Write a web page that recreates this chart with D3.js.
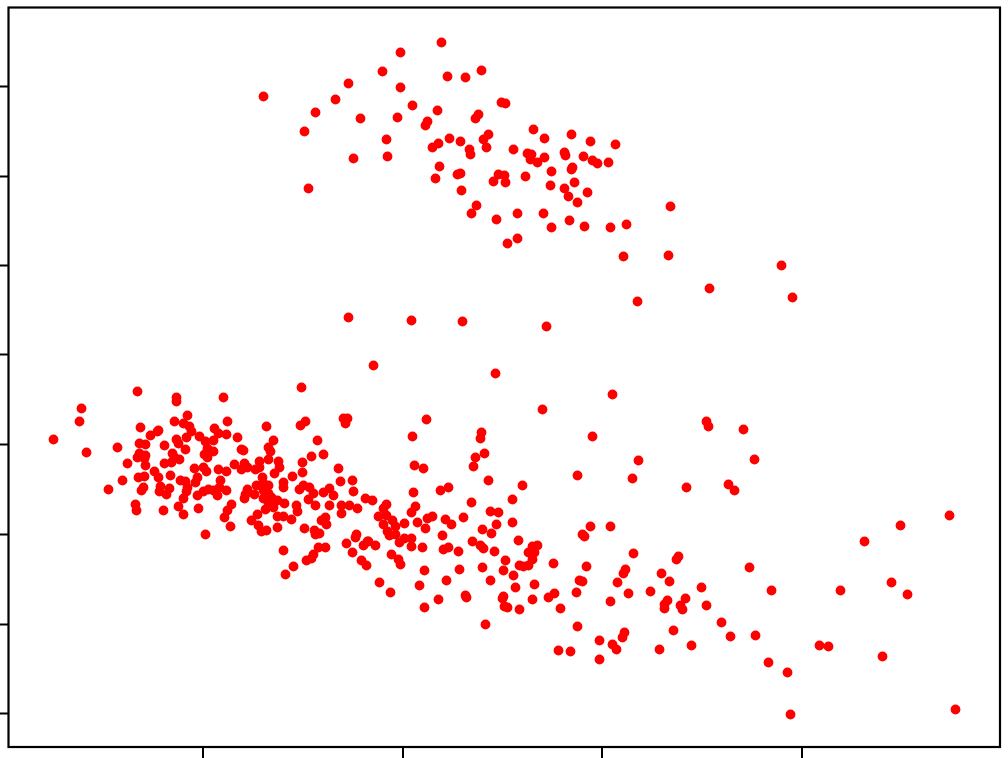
<!DOCTYPE html>
<html><head><meta charset="utf-8">
<script src="https://cdn.jsdelivr.net/npm/d3@7/dist/d3.min.js"></script>
<style>html,body{margin:0;padding:0;background:#fff}svg{display:block}</style></head>
<body><div id="chart"></div>
<script>
const xTicks=[203,403,602,802];
const yTicks=[86,176,265,354,444,534,624,713];
const upperCluster=[[441,42],[447,76],[465,77],[481,70],[501,102],[505,103],[412,105],[437,110],[478,114],[475,118],[427,121],[425,125],[533,129],[544,138],[571,134],[590,141],[615,144],[488,134],[483,139],[486,147],[449,138],[460,141],[438,143],[432,147],[469,149],[470,154],[513,149],[527,153],[531,154],[530,159],[537,162],[544,157],[564,152],[565,155],[583,156],[592,160],[597,163],[608,162],[551,171],[572,167],[571,169],[439,166],[435,178],[457,174],[460,173],[498,174],[504,175],[493,181],[505,182],[525,176],[550,185],[564,188],[574,182],[568,196],[587,192],[577,202],[461,190],[476,205],[471,213],[496,219],[517,213],[543,213],[569,220],[551,227],[584,226],[610,227],[626,224],[517,238],[507,243],[623,256],[400,52],[263,96],[348,83],[382,71],[400,87],[335,99],[315,112],[360,118],[397,117],[304,131],[386,139],[353,158],[387,156],[308,188],[670,206],[668,255],[637,301],[709,288],[781,265],[792,297]];
const middlePoints=[[348,317],[411,320],[462,321],[546,326],[373,365],[495,373],[612,394],[542,409]];
const leftCluster=[[137,391],[176,397],[176,401],[81,408],[79,421],[53,439],[86,452],[117,447],[127,463],[122,480],[108,489],[140,427],[158,430],[157,431],[150,435],[139,443],[145,444],[164,445],[176,439],[178,443],[174,421],[187,415],[183,423],[189,426],[191,431],[186,437],[199,436],[205,441],[185,449],[139,453],[137,457],[145,455],[145,465],[144,458],[172,453],[174,457],[164,463],[171,462],[179,459],[154,471],[158,477],[138,477],[144,476],[170,475],[194,468],[203,467],[206,471],[204,454],[207,448],[207,457],[143,487],[141,490],[160,486],[159,491],[169,488],[166,494],[180,480],[185,481],[187,487],[186,491],[197,477],[195,482],[197,495],[203,491],[208,489],[183,498],[178,506],[135,504],[136,510],[163,510],[183,514],[198,508],[205,534]];
const centerCluster=[[301,387],[223,397],[227,421],[266,426],[214,428],[218,433],[226,434],[237,437],[213,440],[213,451],[241,449],[243,450],[273,440],[268,447],[270,451],[268,459],[259,461],[278,461],[279,467],[274,473],[302,462],[311,456],[323,454],[317,440],[302,472],[300,425],[305,421],[343,418],[347,418],[345,423],[234,464],[244,463],[241,469],[247,467],[255,469],[259,467],[218,469],[226,471],[262,477],[292,476],[283,482],[283,487],[220,480],[219,487],[213,490],[226,490],[217,495],[247,489],[245,494],[244,498],[254,494],[256,485],[263,483],[268,485],[263,490],[263,498],[268,493],[271,497],[268,502],[277,500],[284,503],[273,507],[265,509],[257,514],[251,520],[231,504],[227,510],[224,517],[230,526],[258,525],[261,531],[266,530],[277,527],[277,516],[283,516],[291,519],[296,505],[297,511],[299,489],[303,485],[309,487],[313,493],[308,499],[315,505],[323,492],[329,488],[333,495],[329,505],[338,468],[340,481],[352,480],[353,491],[365,498],[341,505],[341,513],[349,505],[357,508],[325,517],[321,520],[326,524],[304,528],[314,530],[315,534],[319,533],[283,550],[318,547],[325,547],[313,554],[311,558],[306,560],[293,566],[285,574],[346,543],[352,552],[356,534],[355,537],[363,545],[367,541],[361,560],[366,565]];
const lowerCluster=[[426,419],[412,436],[481,432],[480,438],[484,453],[475,457],[473,466],[414,465],[423,468],[488,480],[522,485],[413,492],[440,490],[448,487],[471,502],[512,499],[372,500],[386,504],[383,508],[415,506],[411,512],[378,516],[386,515],[392,520],[383,524],[395,526],[387,531],[389,535],[395,534],[404,523],[417,522],[427,518],[432,516],[425,528],[445,519],[451,524],[463,517],[442,535],[404,538],[399,542],[411,538],[411,546],[422,547],[368,541],[375,545],[391,554],[398,559],[400,564],[424,570],[379,582],[390,592],[419,585],[446,580],[459,569],[443,549],[448,547],[458,551],[472,541],[480,545],[483,548],[494,551],[482,529],[496,524],[491,533],[512,522],[490,511],[498,512],[518,540],[505,560],[503,570],[482,567],[513,575],[490,580],[515,587],[534,584],[537,545],[532,546],[528,552],[534,552],[532,559],[519,565],[523,566],[528,565],[553,563],[503,596],[502,598],[504,606],[507,607],[465,595],[466,597],[438,599],[424,607],[519,609],[532,599],[548,597],[554,593],[560,608],[485,624]];
const rightCluster=[[592,436],[706,421],[708,426],[743,429],[754,459],[638,460],[632,478],[577,475],[686,487],[728,484],[734,490],[949,515],[900,525],[864,541],[582,534],[584,536],[590,526],[610,526],[633,553],[586,566],[625,569],[623,573],[617,582],[579,580],[582,581],[576,592],[628,593],[610,601],[650,591],[661,573],[669,581],[678,556],[676,559],[701,587],[749,567],[771,590],[840,590],[891,582],[907,594],[685,598],[667,600],[664,604],[664,608],[680,605],[682,609],[706,605],[673,630],[721,622],[730,636],[755,635],[691,645],[659,649],[624,632],[622,637],[599,640],[612,644],[616,649],[577,626],[558,650],[570,651],[599,659],[768,662],[787,672],[790,714],[819,645],[828,646],[882,656],[955,709]];

const width=1008,height=758;
const left=8,right=999,top_=8,bottom=747;
const x=d3.scaleLinear().domain([8,999]).range([left,right]);
const y=d3.scaleLinear().domain([747,8]).range([bottom,top_]);
const svg=d3.select("#chart").append("svg").attr("width",width).attr("height",height);
const points=[...upperCluster,...middlePoints,...leftCluster,...centerCluster,...lowerCluster,...rightCluster];
svg.append("g").attr("transform","translate(0.5,0.5)").selectAll("circle").data(points).join("circle")
  .attr("cx",d=>x(d[0])).attr("cy",d=>y(d[1])).attr("r",4.9).attr("fill","#ff0000");
const ax=svg.append("g").attr("transform",`translate(0,${bottom})`)
  .call(d3.axisBottom(x).tickValues(xTicks).tickSize(11).offset(0).tickFormat(""));
const ay=svg.append("g").attr("transform",`translate(${left},0.5)`)
  .call(d3.axisLeft(y).tickValues(yTicks).tickSize(11).offset(0).tickFormat(""));
[ax,ay].forEach(g=>{g.select(".domain").remove();g.selectAll("line").attr("stroke","#000").attr("stroke-width",2);});
svg.append("rect").attr("x",left+0.5).attr("y",top_-0.5).attr("width",right-left+0.5).attr("height",bottom-top_+0.5)
  .attr("fill","none").attr("stroke","#000").attr("stroke-width",2.2);
</script></body></html>
